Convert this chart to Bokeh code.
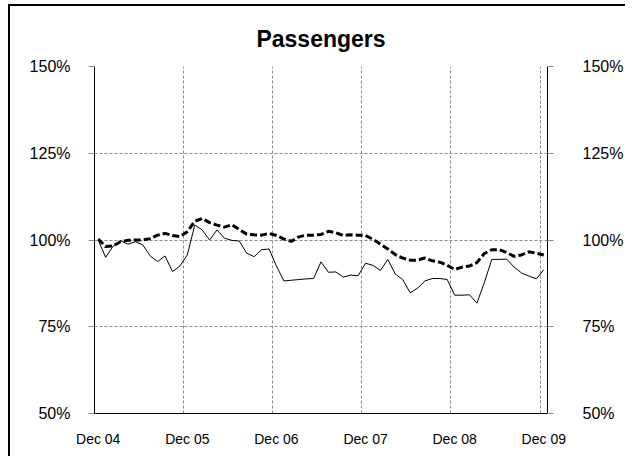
from bokeh.plotting import figure
from bokeh.models import Range1d, FixedTicker, LinearAxis, PrintfTickFormatter
from bokeh.embed import file_html
from bokeh.resources import INLINE
import numpy as np

title_text = "Passengers"

# monthly index values, Dec 04 .. Dec 09 (61 months)
series_thin = [100.0, 95.0, 98.2, 99.8, 98.8, 99.5, 98.6, 95.4, 93.8, 95.4, 90.9, 92.5,
               95.7, 104.3, 102.9, 100.0, 102.9, 100.5, 99.9, 99.7, 96.2, 95.2, 97.2, 97.4,
               92.5, 88.2, 88.4, 88.6, 88.8, 88.9, 93.7, 90.7, 90.8, 89.3, 89.9, 89.7,
               93.3, 92.7, 91.2, 94.4, 90.2, 88.6, 84.8, 86.1, 88.2, 88.9, 88.9, 88.6,
               84.1, 84.1, 84.2, 81.8, 87.8, 94.4, 94.4, 94.5, 92.2, 90.5, 89.6, 88.8,
               91.4]
series_dashed = [100.3, 98.1, 98.3, 99.5, 99.9, 100.0, 100.0, 100.4, 101.4, 101.9, 101.3, 101.0,
                 102.4, 105.4, 106.2, 105.0, 104.3, 103.7, 104.4, 103.0, 101.7, 101.5, 101.4, 101.9,
                 101.3, 100.3, 99.6, 100.9, 101.4, 101.4, 101.6, 102.5, 102.1, 101.3, 101.5, 101.4,
                 101.3, 100.2, 98.8, 97.4, 95.8, 94.8, 94.2, 94.2, 94.8, 94.0, 93.6, 92.7,
                 91.5, 92.2, 92.5, 93.5, 96.1, 97.2, 97.2, 96.4, 95.3, 95.7, 96.6, 96.2,
                 95.7]
x_tick_labels = ["Dec 04", "Dec 05", "Dec 06", "Dec 07", "Dec 08", "Dec 09"]
y_ticks = [50, 75, 100, 125, 150]

n = len(series_thin)
x = np.arange(n) + 0.5          # category centres
year_bounds = [12 * k for k in range(1, len(x_tick_labels))]
label_pos = [12 * k + 0.5 for k in range(len(x_tick_labels))]

FONT = "Liberation Sans"
GRID = "#8c8c8c"

p = figure(width=617, height=452, output_backend="svg", toolbar_location=None,
           x_range=Range1d(0, n), y_range=Range1d(50, 150),
           min_border_left=84, min_border_right=80, min_border_top=60, min_border_bottom=45)
p.styles = {"margin-left": "10px", "margin-top": "6px", "box-shadow": "-2px -2px 0 0 black"}
p.background_fill_color = "white"
p.border_fill_color = "white"
p.outline_line_color = None

p.title.text = title_text
p.title.text_font = FONT
p.title.text_font_size = "23px"
p.title.text_font_style = "bold"
p.title.text_color = "black"
p.title.align = "center"
p.title.standoff = 30

# x axis
xa = p.xaxis[0]
xa.ticker = FixedTicker(ticks=label_pos)
xa.major_label_overrides = {pos: lab for pos, lab in zip(label_pos, x_tick_labels)}
xa.major_tick_line_color = None
xa.minor_tick_line_color = None
xa.major_label_standoff = 11
xa.major_label_text_font = FONT
xa.major_label_text_font_size = "14px"
xa.major_label_text_color = "black"
xa.axis_line_color = "black"

# grids
p.xgrid.ticker = FixedTicker(ticks=year_bounds)
p.xgrid.grid_line_color = GRID
p.xgrid.grid_line_dash = "3 2"
p.ygrid.ticker = FixedTicker(ticks=y_ticks[1:])
p.ygrid.grid_line_color = GRID
p.ygrid.grid_line_dash = "3 2"

def style_y(ax, standoff):
    ax.ticker = FixedTicker(ticks=y_ticks)
    ax.formatter = PrintfTickFormatter(format="%d%%")
    ax.axis_line_color = "black"
    ax.major_tick_line_color = GRID
    ax.major_tick_out = 6
    ax.major_tick_in = 0
    ax.minor_tick_line_color = None
    ax.major_label_standoff = standoff
    ax.major_label_text_font = FONT
    ax.major_label_text_font_size = "16px"
    ax.major_label_text_color = "black"

style_y(p.yaxis[0], 18)
ry = LinearAxis()
style_y(ry, 29)
p.add_layout(ry, "right")

p.line(x, series_thin, line_color="black", line_width=1)
p.line(x, series_dashed, line_color="black", line_width=3, line_dash="7 3")

open("out.html", "w").write(file_html(p, INLINE))
